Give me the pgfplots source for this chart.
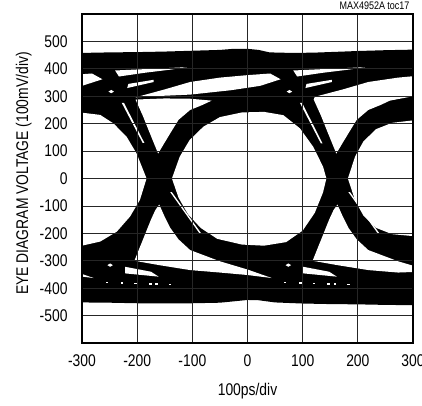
\documentclass[border=0pt]{standalone}
\usepackage{fontspec}
\setmainfont{Liberation Sans}[FakeStretch=0.82]
\usepackage{pgfplots}
\pgfplotsset{compat=1.18}
\newcommand\lbl{\fontsize{17}{20}\selectfont}
\pgfplotsset{blk/.style={fill=black,draw=none}, hole/.style={fill=white,draw=none}}
\begin{document}
\begin{tikzpicture}
\begin{axis}[name=ax, scale only axis, width=331bp, height=329bp,
 xmin=-300, xmax=300, ymin=-600, ymax=600,
 xtick={-300,-200,...,300}, xticklabels={-300,-200,-100,0,100,200,300},
 ytick={-500,-400,...,500}, yticklabels={-500,-400,-300,-200,-100,0,100,200,300,400,500},
 grid=major, major grid style={black!85, line width=0.8bp},
 major tick length=0pt,
 axis line style={line width=2.5bp}, axis on top,
 tick label style={font=\lbl},
 yticklabel style={xshift=-11bp}, xticklabel style={yshift=-8bp},
 xlabel={100ps/div}, ylabel={EYE DIAGRAM VOLTAGE (100mV/div)},
 label style={font=\lbl},
 xlabel style={at={(axis description cs:0.5,-0.161)}, anchor=base},
 ylabel style={at={(axis description cs:-0.163,0.515)}, anchor=base},
]
% overall black envelope of the traces
\addplot[blk] coordinates {(-300,458) (-250,460) (-200,461) (-150,463) (-100,466) (-50,469) (-25,473) (0,473) (20,469) (40,460) (80,458) (120,459) (160,462) (200,465) (250,468) (300,470)
 (300,-462) (250,-461) (200,-459) (150,-458) (100,-456) (50,-452) (20,-444) (0,-443) (-20,-447) (-50,-453) (-100,-455) (-150,-455) (-200,-455) (-250,-453) (-300,-452)};
% main eye opening
\addplot[hole] coordinates {(-137,0) (-123,79) (-105,140) (-80,189) (-50,224) (-10,241) (30,243) (65,231) (95,183) (119,116) (137,43) (143,0) (137,-50) (122,-125) (100,-190) (70,-232) (30,-245) (-10,-241) (-55,-220) (-85,-180) (-108,-130) (-125,-70)};
% left half eye
\addplot[hole] coordinates {(-300,240) (-267,232) (-243,201) (-219,152) (-201,91) (-183,0) (-195,-78) (-213,-139) (-237,-194) (-267,-230) (-300,-245)};
% right half eye
\addplot[hole] coordinates {(300,212) (262,203) (233,180) (210,135) (195,80) (182,0) (195,-80) (210,-135) (233,-180) (262,-203) (300,-210)};
% thin upper wedges under the top rail
\addplot[hole] coordinates {(-240,394) (-175,400) (-110,406) (-140,397) (-185,386) (-233,372)};
\addplot[hole] coordinates {(83,394) (148,400) (213,406) (183,397) (138,386) (90,372)};
% small slanted slivers (upper)
\addplot[hole] coordinates {(-218,330) (-170,352) (-170,360) (-216,345)};
\addplot[hole] coordinates {(105,330) (153,352) (153,360) (107,345)};
% upper wedge above the eye (left copy and previous period)
\addplot[hole] coordinates {(-203,296) (-150,325) (-104,352) (-50,368) (0,377) (41,383) (60,362) (23,338) (-30,322) (-104,306) (-160,301)};
\addplot[hole] coordinates {(-526,296) (-473,325) (-427,352) (-373,368) (-323,377) (-282,383) (-263,362) (-300,338) (-353,322) (-427,306) (-483,301)};
% triangle above left crossing
\addplot[hole] coordinates {(-162,91) (-176,160) (-190,230) (-203,288) (-150,292) (-104,291) (-65,284) (-82,268) (-104,250) (-125,214) (-140,165) (-152,125)};
% region above right crossing
\addplot[hole] coordinates {(161,91) (147,160) (133,230) (120,288) (122,298) (173,325) (219,352) (273,368) (300,373) (300,300) (258,284) (241,268) (219,250) (198,214) (183,165) (171,125)};
% region below left crossing (and copies)
\addplot[hole] coordinates {(-160,-95) (-150,-140) (-140,-180) (-125,-222) (-104,-261) (-50,-302) (0,-332) (44,-363) (0,-352) (-50,-343) (-104,-334) (-160,-316) (-205,-300) (-195,-250) (-185,-200) (-175,-150) (-167,-115)};
\addplot[hole] coordinates {(-483,-95) (-473,-140) (-463,-180) (-448,-222) (-427,-261) (-373,-302) (-323,-332) (-279,-363) (-323,-352) (-373,-343) (-427,-334) (-483,-316)};
\addplot[hole] coordinates {(163,-95) (173,-140) (183,-180) (198,-222) (219,-261) (273,-302) (300,-318) (300,-341) (273,-343) (219,-334) (163,-316) (118,-300) (128,-250) (138,-200) (148,-150) (156,-115)};
% small slanted slivers (lower)
\addplot[hole] coordinates {(-222,-322) (-175,-340) (-161,-358) (-222,-346)};
\addplot[hole] coordinates {(101,-322) (148,-340) (162,-358) (101,-346)};
% thin gaps inside the transition bands
\addplot[hole] coordinates {(-228,276) (-224,276) (-187,130) (-190,130)};
\addplot[hole] coordinates {(95,276) (99,276) (136,128) (133,128)};
\addplot[hole] coordinates {(-140,-50) (-137,-50) (-84,-200) (-87,-200)};
\addplot[hole] coordinates {(183,-50) (186,-50) (239,-200) (236,-200)};
% small dots
\addplot[hole] coordinates {(-252,317) (-247,323) (-242,317) (-247,311)};
\addplot[hole] coordinates {(71,317) (76,323) (81,317) (76,311)};
\addplot[hole] coordinates {(-254,-316) (-249,-310) (-244,-316) (-249,-322)};
\addplot[hole] coordinates {(69,-316) (74,-310) (79,-316) (74,-322)};
\addplot[hole] coordinates {(-257,-376) (-253,-376) (-253,-382) (-257,-382)};
\addplot[hole] coordinates {(-229,-379) (-225,-379) (-225,-385) (-229,-385)};
\addplot[hole] coordinates {(-205,-380) (-200,-380) (-200,-386) (-205,-386)};
\addplot[hole] coordinates {(-178,-381) (-174,-381) (-174,-387) (-178,-387)};
\addplot[hole] coordinates {(-167,-381) (-163,-381) (-163,-387) (-167,-387)};
\addplot[hole] coordinates {(-142,-383) (-138,-383) (-138,-389) (-142,-389)};
\addplot[hole] coordinates {(66,-376) (70,-376) (70,-382) (66,-382)};
\addplot[hole] coordinates {(94,-379) (98,-379) (98,-385) (94,-385)};
\addplot[hole] coordinates {(118,-380) (123,-380) (123,-386) (118,-386)};
\addplot[hole] coordinates {(145,-381) (149,-381) (149,-387) (145,-387)};
\addplot[hole] coordinates {(156,-381) (160,-381) (160,-387) (156,-387)};
\addplot[hole] coordinates {(181,-383) (185,-383) (185,-389) (181,-389)};
\end{axis}
\node[anchor=base east, font=\fontsize{11}{13}\selectfont] at ([yshift=4bp]ax.north east) {MAX4952A toc17};
\pgfresetboundingbox
\path[use as bounding box] ([xshift=-82bp,yshift=-62bp]ax.south west) rectangle ([xshift=9bp,yshift=14bp]ax.north east);
\end{tikzpicture}
\end{document}
